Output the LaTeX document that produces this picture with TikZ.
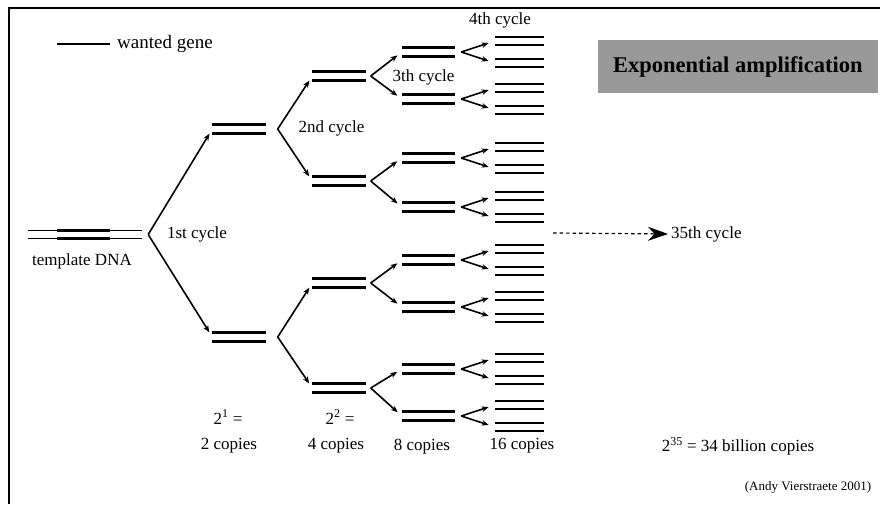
\documentclass[tikz,border=0pt]{standalone}
\usepackage{fontspec}
\setmainfont{Liberation Serif}
\usetikzlibrary{arrows.meta,calc}
\tikzset{
  strand/.style={line width=2.8pt},
  thinstrand/.style={line width=1.3pt},
  pairbox/.style={inner sep=0pt, minimum width=53pt, minimum height=8pt},
  quadbox/.style={inner sep=0pt, minimum width=49pt, minimum height=7.5pt},
  branch/.style={line width=1.6pt, -{Stealth[length=7pt,width=5.5pt]}, shorten >=5.5pt},
  lbl/.style={font=\fontsize{17}{20}\selectfont, inner sep=0pt},
  frame/.style={line width=2.8pt},
}
\begin{document}
\begin{tikzpicture}[x=1pt,y=-1pt]
\useasboundingbox (0,0) rectangle (880,504);
\fill[white] (0,0) rectangle (880,504);
% frame
\draw[frame] (9,504) -- (9,8) -- (880,8);
% legend
\node[lbl, font=\fontsize{19}{22}\selectfont, anchor=west] (legend) at (117,44) {wanted gene};
\draw[strand] ($(legend.west)+(-60,0)$) -- ($(legend.west)+(-7,0)$);
% title
\node[fill=black!40, anchor=west, inner xsep=15pt, minimum height=53pt,
      font=\bfseries\fontsize{22.5}{26}\selectfont] (title) at (598,66.5) {Exponential amplification};
% template
\node[inner sep=0pt, minimum width=114pt, minimum height=7pt] (tmpl) at (85,234.5) {};
\draw[thinstrand] (tmpl.north west) -- (tmpl.north east);
\draw[thinstrand] (tmpl.south west) -- (tmpl.south east);
\draw[strand] ($(tmpl.north west)+(29,0)$) -- ($(tmpl.north west)+(82,0)$);
\draw[strand] ($(tmpl.south west)+(29,0)$) -- ($(tmpl.south west)+(82,0)$);
\node[lbl] (tmpllbl) at (82,261) {template DNA};
% generation 1
\node[pairbox] (a1) at (239,129) {};
\node[pairbox] (a2) at (239,337) {};
% generation 2
\foreach \i/\y in {1/76,2/181,3/283,4/388}
  \node[pairbox] (b\i) at (339,\y) {};
% generation 3
\foreach \i/\y in {1/52,2/99,3/158,4/207,5/260,6/307,7/369,8/416}
  \node[pairbox] (c\i) at (428.5,\y) {};
% generation 4
\foreach \i/\y in {1/52,2/99,3/158,4/207,5/260,6/307,7/369,8/416} {
  \pgfmathtruncatemacro\ka{2*\i-1}
  \pgfmathtruncatemacro\kb{2*\i}
  \node[quadbox] (d\ka) at (519.5,\y-11) {};
  \node[quadbox] (d\kb) at (519.5,\y+11) {};
}
% strands
\foreach \n in {a1,a2,b1,b2,b3,b4,c1,c2,c3,c4,c5,c6,c7,c8,
  d1,d2,d3,d4,d5,d6,d7,d8,d9,d10,d11,d12,d13,d14,d15,d16} {
  \draw[strand] (\n.north west) -- (\n.north east);
  \draw[strand] (\n.south west) -- (\n.south east);
}
% branching
\coordinate (v0) at ($(tmpl.east)+(6,0)$);
\draw[branch] (v0) -- (a1.west);
\draw[branch] (v0) -- (a2.west);
\foreach \i in {1,2} {
  \pgfmathtruncatemacro\ja{2*\i-1}
  \pgfmathtruncatemacro\jb{2*\i}
  \coordinate (va\i) at ($(a\i.east)+(12,0)$);
  \draw[branch] (va\i) -- (b\ja.west);
  \draw[branch] (va\i) -- (b\jb.west);
}
\foreach \i in {1,...,4} {
  \pgfmathtruncatemacro\ja{2*\i-1}
  \pgfmathtruncatemacro\jb{2*\i}
  \coordinate (vb\i) at ($(b\i.east)+(5,0)$);
  \draw[branch] (vb\i) -- (c\ja.west);
  \draw[branch] (vb\i) -- (c\jb.west);
}
\foreach \i in {1,...,8} {
  \pgfmathtruncatemacro\ja{2*\i-1}
  \pgfmathtruncatemacro\jb{2*\i}
  \coordinate (vc\i) at ($(c\i.east)+(6,0)$);
  \draw[branch, shorten >=6.5pt] (vc\i) -- (d\ja.west);
  \draw[branch, shorten >=6.5pt] (vc\i) -- (d\jb.west);
}
% cycle labels
\node[lbl] (cyc1) at (197,234) {1st cycle};
\node[lbl] (cyc2) at (331.5,128) {2nd cycle};
\node[lbl] (cyc3) at (423.5,77) {3th cycle};
\node[lbl] (cyc4) at (500,20) {4th cycle};
% 35th cycle
\node[lbl, anchor=west] (c35) at (671,234) {35th cycle};
\coordinate (dstart) at (553,233);
\draw[line width=1.2pt, dash pattern=on 3.5pt off 3pt, -{Stealth[length=20pt,width=14pt]}, shorten >=3pt] (dstart) -- (c35.west);
% counts
\node[lbl] (n1a) at (228,417) {2\textsuperscript{1} =};
\node[lbl] (n1b) at (229,446) {2 copies};
\node[lbl] (n2a) at (340,417) {2\textsuperscript{2} =};
\node[lbl] (n2b) at (336,446) {4 copies};
\node[lbl] (n3b) at (422,447) {8 copies};
\node[lbl] (n4b) at (522,446) {16 copies};
\node[lbl] (n35) at (738,446) {2\textsuperscript{35} = 34 billion copies};
\node[lbl, font=\fontsize{13}{15}\selectfont] (credit) at (808,487) {(Andy Vierstraete 2001)};
\end{tikzpicture}
\end{document}
